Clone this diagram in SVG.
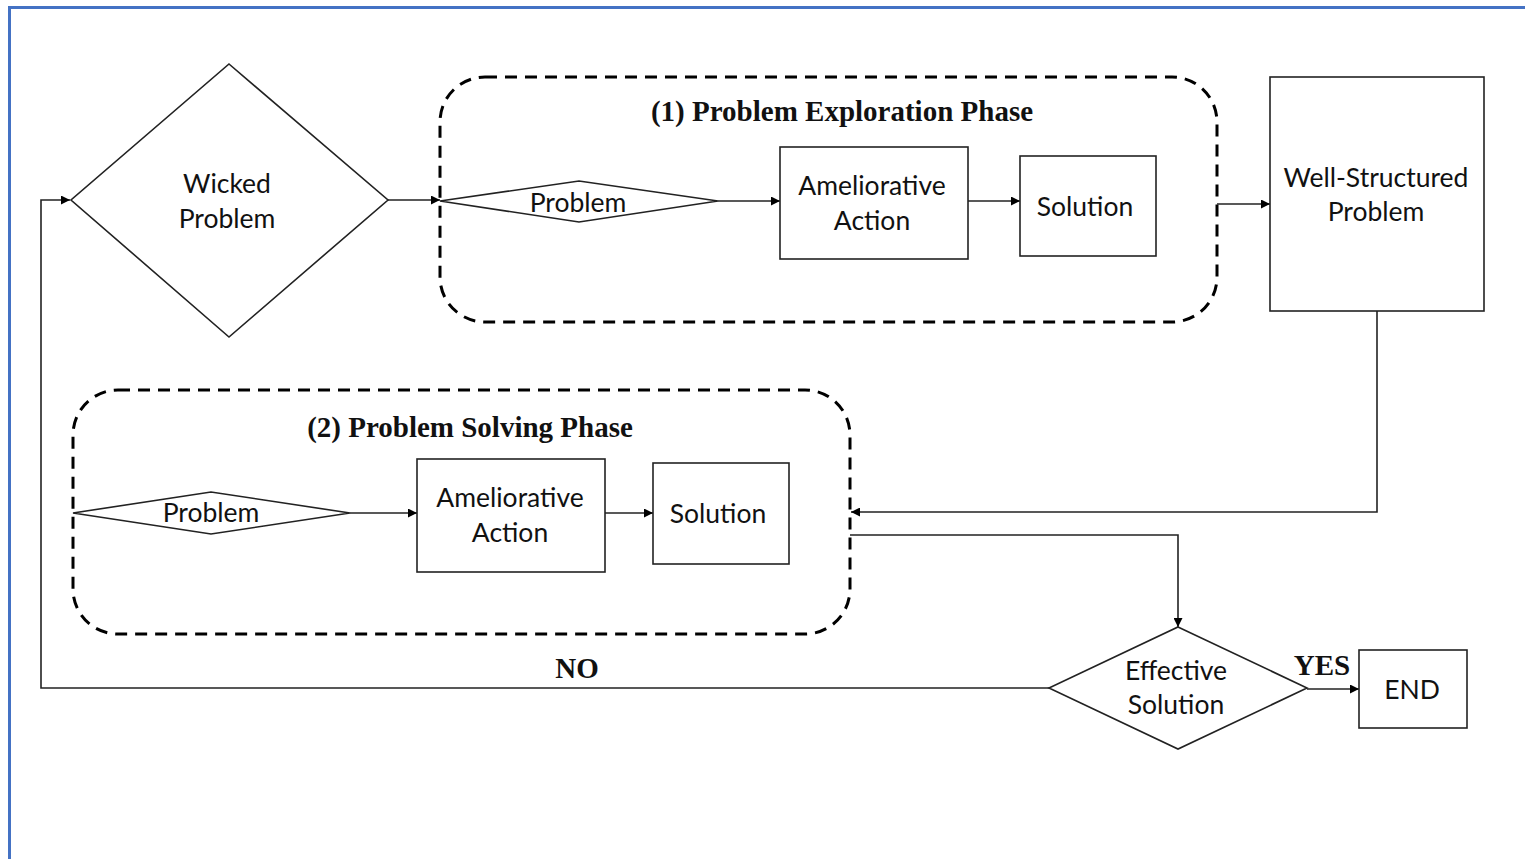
<svg xmlns="http://www.w3.org/2000/svg" width="1525" height="859" viewBox="0 0 1525 859">
  <defs>
    <marker id="arrow" viewBox="0 0 10 10" refX="10" refY="5" markerWidth="9" markerHeight="9" markerUnits="userSpaceOnUse" orient="auto">
      <path d="M0,0 L10,5 L0,10 z" fill="#000"/>
    </marker>
    <style>
      .shape { fill: #fff; stroke: #222; stroke-width: 1.6; }
      .phase { fill: none; stroke: #000; stroke-width: 3; stroke-dasharray: 12 8; }
      .edge { fill: none; stroke: #222; stroke-width: 1.6; }
      .label { font-family: Lato, "Liberation Sans", sans-serif; font-size: 26.5px; fill: #111; text-anchor: middle; }
      .title { font-family: "Liberation Serif", serif; font-weight: bold; font-size: 29px; fill: #111; text-anchor: middle; }
    </style>
  </defs>

  <rect width="1525" height="859" fill="#fff"/>
  <!-- frame -->
  <path d="M9.5,859 L9.5,7.5 L1525,7.5" fill="none" stroke="#4472C4" stroke-width="3"/>

  <!-- phase containers -->
  <g id="phase-exploration">
    <rect class="phase" x="440" y="77" width="777" height="245" rx="45"/>
    <text class="title" x="842" y="121">(1) Problem Exploration Phase</text>
  </g>
  <g id="phase-solving">
    <rect class="phase" x="73" y="390" width="777" height="244" rx="45"/>
    <text class="title" x="470" y="437">(2) Problem Solving Phase</text>
  </g>

  <!-- connectors -->
  <g id="connectors">
    <polyline class="edge" points="1049,688 41,688 41,200 70,200" marker-end="url(#arrow)"/>
    <line class="edge" x1="388" y1="200" x2="440" y2="200" marker-end="url(#arrow)"/>
    <line class="edge" x1="718" y1="201" x2="780" y2="201" marker-end="url(#arrow)"/>
    <line class="edge" x1="968" y1="201" x2="1020" y2="201" marker-end="url(#arrow)"/>
    <line class="edge" x1="1217" y1="204" x2="1270" y2="204" marker-end="url(#arrow)"/>
    <polyline class="edge" points="1377,311 1377,512 851,512" marker-end="url(#arrow)"/>
    <line class="edge" x1="350" y1="513" x2="417" y2="513" marker-end="url(#arrow)"/>
    <line class="edge" x1="601" y1="513" x2="653" y2="513" marker-end="url(#arrow)"/>
    <polyline class="edge" points="850,535 1178,535 1178,627" marker-end="url(#arrow)"/>
    <line class="edge" x1="1307" y1="689" x2="1359" y2="689" marker-end="url(#arrow)"/>
    <text class="title" x="577" y="678">NO</text>
    <text class="title" x="1322" y="675">YES</text>
  </g>

  <g id="wicked-problem">
    <polygon class="shape" points="229,64 388,200 229,337 71,200"/>
    <text class="label" x="227" y="193">Wicked</text>
    <text class="label" x="227" y="228">Problem</text>
  </g>

  <g id="problem-1">
    <polygon class="shape" points="440,201 579,181 718,201 579,222"/>
    <text class="label" x="578" y="212">Problem</text>
  </g>
  <g id="ameliorative-1">
    <rect class="shape" x="780" y="147" width="188" height="112"/>
    <text class="label" x="872" y="195">Ameliorative</text>
    <text class="label" x="872" y="230">Action</text>
  </g>
  <g id="solution-1">
    <rect class="shape" x="1020" y="156" width="136" height="100"/>
    <text class="label" x="1085" y="216">Solution</text>
  </g>

  <g id="well-structured-problem">
    <rect class="shape" x="1270" y="77" width="214" height="234"/>
    <text class="label" x="1376" y="187">Well-Structured</text>
    <text class="label" x="1376" y="221">Problem</text>
  </g>

  <g id="problem-2">
    <polygon class="shape" points="73,513 211,492 350,513 211,534"/>
    <text class="label" x="211" y="522">Problem</text>
  </g>
  <g id="ameliorative-2">
    <rect class="shape" x="417" y="459" width="188" height="113"/>
    <text class="label" x="510" y="507">Ameliorative</text>
    <text class="label" x="510" y="542">Action</text>
  </g>
  <g id="solution-2">
    <rect class="shape" x="653" y="463" width="136" height="101"/>
    <text class="label" x="718" y="523">Solution</text>
  </g>

  <g id="effective-solution">
    <polygon class="shape" points="1178,627 1307,688 1178,749 1049,688"/>
    <text class="label" x="1176" y="680">Effective</text>
    <text class="label" x="1176" y="714">Solution</text>
  </g>

  <g id="end">
    <rect class="shape" x="1359" y="650" width="108" height="78"/>
    <text class="label" x="1412" y="699">END</text>
  </g>
</svg>
